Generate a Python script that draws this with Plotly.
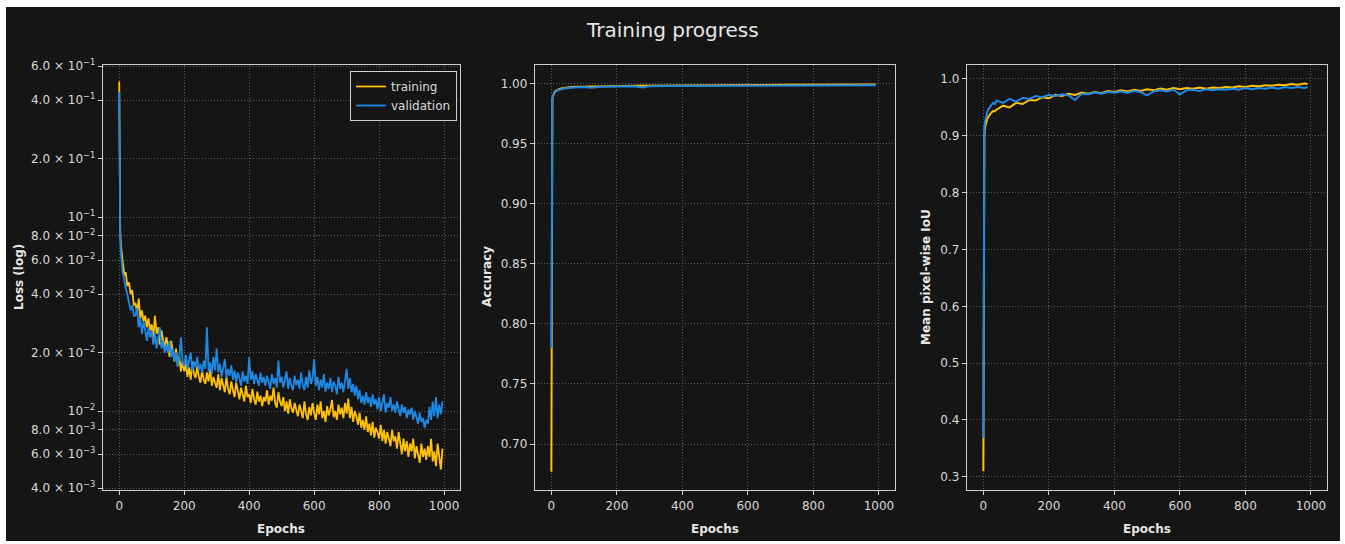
import plotly.graph_objects as go

# ---------------- data ----------------
loss_epochs = [0, 1, 2, 3, 5, 7, 10, 13, 16, 20, 25, 30, 35, 40, 45] + list(range(50, 1000, 5))
train_loss = [0.50, 0.21, 0.11, 0.085, 0.072, 0.064, 0.060, 0.055, 0.050, 0.052, 0.044, 0.046, 0.040, 0.042, 0.035,
              0.036, 0.032, 0.038, 0.030, 0.033, 0.029, 0.031, 0.027, 0.030, 0.026,
              0.028, 0.024, 0.031, 0.025, 0.027, 0.022, 0.026, 0.023, 0.021, 0.024,
              0.022, 0.019, 0.023, 0.020, 0.018, 0.021, 0.017, 0.019, 0.016, 0.018,
              0.0160, 0.0175, 0.0150, 0.0168, 0.0145, 0.0180, 0.0155, 0.0148, 0.0170, 0.0150,
              0.0140, 0.0162, 0.0145, 0.0138, 0.0158, 0.0142, 0.0165, 0.0135, 0.0150, 0.0140,
              0.0132, 0.0155, 0.0128, 0.0148, 0.0136, 0.0125, 0.0150, 0.0130, 0.0122, 0.0142,
              0.0128, 0.0118, 0.0140, 0.0125, 0.0115, 0.0132, 0.0120, 0.0112, 0.0135, 0.0118,
              0.0122, 0.0110, 0.0130, 0.0115, 0.0108, 0.0126, 0.0112, 0.0120, 0.0106, 0.0118,
              0.0112, 0.0128, 0.0108, 0.0120, 0.0113, 0.0132, 0.0110, 0.0104, 0.0125, 0.0112,
              0.0106, 0.0118, 0.0100, 0.0112, 0.0097, 0.0115, 0.0103, 0.0098, 0.0110, 0.0100,
              0.0094, 0.0108, 0.0100, 0.0092, 0.0112, 0.0097, 0.0090, 0.0105, 0.0095, 0.0110,
              0.0098, 0.0090, 0.0108, 0.0096, 0.0112, 0.0092, 0.0100, 0.0088, 0.0106, 0.0095,
              0.0102, 0.0114, 0.0093, 0.0100, 0.0090, 0.0108, 0.0096, 0.0104, 0.0092, 0.0110,
              0.0097, 0.0116, 0.0092, 0.0105, 0.0088, 0.0100, 0.0094, 0.0085, 0.0098, 0.0082,
              0.0090, 0.0080, 0.0094, 0.0078, 0.0086, 0.0075, 0.0088, 0.0073, 0.0082, 0.0078,
              0.0072, 0.0085, 0.0070, 0.0080, 0.0068, 0.0078, 0.0072, 0.0066, 0.0080, 0.0070,
              0.0074, 0.0064, 0.0078, 0.0066, 0.0060, 0.0072, 0.0062, 0.0070, 0.0058, 0.0068,
              0.0062, 0.0072, 0.0057, 0.0066, 0.0060, 0.0054, 0.0068, 0.0058, 0.0064, 0.0056,
              0.0066, 0.0058, 0.0072, 0.0055, 0.0062, 0.0052, 0.0068, 0.0056, 0.0050, 0.0064]
val_loss = [0.44, 0.19, 0.10, 0.080, 0.066, 0.058, 0.052, 0.050, 0.046, 0.043, 0.040, 0.036, 0.033, 0.035, 0.031,
            0.031, 0.034, 0.027, 0.030, 0.025, 0.029, 0.026, 0.023, 0.027, 0.024,
            0.026, 0.022, 0.025, 0.021, 0.024, 0.027, 0.021, 0.023, 0.020, 0.022,
            0.020, 0.023, 0.019, 0.021, 0.018, 0.020, 0.017, 0.019, 0.024, 0.018,
            0.0170, 0.0195, 0.0165, 0.0185, 0.0200, 0.0160, 0.0180, 0.0168, 0.0190, 0.0162,
            0.0175, 0.0158, 0.0182, 0.0165, 0.0270, 0.0160, 0.0178, 0.0155, 0.0190, 0.0162,
            0.0210, 0.0158, 0.0175, 0.0150, 0.0168, 0.0185, 0.0148, 0.0165, 0.0152, 0.0172,
            0.0145, 0.0162, 0.0140, 0.0158, 0.0148, 0.0135, 0.0160, 0.0142, 0.0152, 0.0138,
            0.0190, 0.0145, 0.0160, 0.0138, 0.0155, 0.0142, 0.0135, 0.0158, 0.0140, 0.0150,
            0.0135, 0.0152, 0.0140, 0.0130, 0.0155, 0.0138, 0.0148, 0.0132, 0.0182, 0.0140,
            0.0150, 0.0132, 0.0145, 0.0160, 0.0130, 0.0148, 0.0135, 0.0128, 0.0152, 0.0136,
            0.0145, 0.0130, 0.0158, 0.0135, 0.0128, 0.0150, 0.0132, 0.0162, 0.0138, 0.0148,
            0.0185, 0.0135, 0.0150, 0.0128, 0.0145, 0.0132, 0.0155, 0.0126, 0.0140, 0.0130,
            0.0148, 0.0125, 0.0142, 0.0135, 0.0122, 0.0150, 0.0130, 0.0140, 0.0125, 0.0145,
            0.0165, 0.0130, 0.0148, 0.0125, 0.0138, 0.0120, 0.0135, 0.0115, 0.0128, 0.0110,
            0.0120, 0.0108, 0.0125, 0.0110, 0.0118, 0.0105, 0.0122, 0.0108, 0.0115, 0.0102,
            0.0118, 0.0100, 0.0112, 0.0122, 0.0098, 0.0110, 0.0104, 0.0118, 0.0100, 0.0108,
            0.0098, 0.0112, 0.0102, 0.0094, 0.0108, 0.0098, 0.0105, 0.0092, 0.0102, 0.0096,
            0.0104, 0.0090, 0.0100, 0.0094, 0.0086, 0.0098, 0.0088, 0.0092, 0.0082, 0.0090,
            0.0086, 0.0105, 0.0090, 0.0112, 0.0094, 0.0118, 0.0092, 0.0108, 0.0096, 0.0112]

acc_epochs = [0, 1, 2, 3, 4, 6, 8, 10, 13, 16, 20, 25, 30, 40, 50, 60, 80, 100, 120, 150, 180, 210,
              250, 280, 300, 350, 400, 450, 500, 550, 600, 650, 700, 750, 800, 850, 900, 950, 990]
train_acc = [0.677, 0.955, 0.980, 0.986, 0.989, 0.991, 0.9925, 0.9932, 0.9940, 0.9946, 0.9952, 0.9957,
             0.9961, 0.9966, 0.9970, 0.9972, 0.9975, 0.9977, 0.9978, 0.9980, 0.9981, 0.9982, 0.9984,
             0.9984, 0.9985, 0.9986, 0.9987, 0.9988, 0.9988, 0.9989, 0.9990, 0.9990, 0.9991, 0.9991,
             0.9992, 0.9992, 0.9993, 0.9993, 0.9994]
val_acc = [0.780, 0.962, 0.982, 0.987, 0.989, 0.9905, 0.9918, 0.9926, 0.9934, 0.9940, 0.9946, 0.9950,
           0.9955, 0.9960, 0.9964, 0.9967, 0.9970, 0.9972, 0.9966, 0.9974, 0.9976, 0.9977, 0.9979,
           0.9968, 0.9980, 0.9981, 0.9982, 0.9983, 0.9983, 0.9984, 0.9985, 0.9985, 0.9986, 0.9986,
           0.9987, 0.9987, 0.9988, 0.9988, 0.9988]

iou_epochs = [0, 1, 2, 3, 5, 8, 12, 16, 20, 25, 30, 35] + list(range(40, 1000, 20)) + [990]
train_iou = [0.310, 0.80, 0.875, 0.900, 0.915, 0.924, 0.930, 0.934, 0.938, 0.941, 0.944, 0.943,
             0.946, 0.953, 0.950, 0.958, 0.956, 0.963, 0.962, 0.968, 0.966, 0.972, 0.970, 0.974,
             0.972, 0.976, 0.974, 0.977, 0.975, 0.979, 0.977, 0.980, 0.978, 0.981, 0.979, 0.982,
             0.980, 0.983, 0.981, 0.984, 0.982, 0.984, 0.983, 0.985, 0.983, 0.985, 0.984, 0.986,
             0.985, 0.987, 0.986, 0.988, 0.987, 0.989, 0.988, 0.990, 0.989, 0.991, 0.990, 0.992,
             0.991]
val_iou = [0.368, 0.845, 0.900, 0.915, 0.925, 0.935, 0.942, 0.947, 0.951, 0.955, 0.958, 0.956,
           0.962, 0.958, 0.965, 0.960, 0.967, 0.965, 0.970, 0.968, 0.972, 0.970, 0.973, 0.971,
           0.963, 0.974, 0.973, 0.976, 0.974, 0.977, 0.976, 0.978, 0.976, 0.979, 0.977, 0.971,
           0.978, 0.980, 0.978, 0.981, 0.973, 0.980, 0.981, 0.979, 0.982, 0.980, 0.982, 0.981,
           0.983, 0.981, 0.984, 0.982, 0.984, 0.983, 0.985, 0.983, 0.986, 0.984, 0.986, 0.984,
           0.986]

loss_tickvals = [0.6, 0.4, 0.2, 0.1, 0.08, 0.06, 0.04, 0.02, 0.01, 0.008, 0.006, 0.004]
loss_ticktext = ["6.0 × 10<sup>−1</sup>", "4.0 × 10<sup>−1</sup>", "2.0 × 10<sup>−1</sup>", "10<sup>−1</sup>",
                 "8.0 × 10<sup>−2</sup>", "6.0 × 10<sup>−2</sup>", "4.0 × 10<sup>−2</sup>", "2.0 × 10<sup>−2</sup>",
                 "10<sup>−2</sup>", "8.0 × 10<sup>−3</sup>", "6.0 × 10<sup>−3</sup>", "4.0 × 10<sup>−3</sup>"]
x_ticks = [0, 200, 400, 600, 800, 1000]

# ---------------- styling ----------------
W, H = 1345, 544
BG = "#151515"
FG = "#d9d9d9"
YEL = "#FFC107"
BLU = "#1E88E5"
FONT = "DejaVu Sans"


def px_x(p):
    return p / W


def px_y(p):
    return 1 - p / H


fig = go.Figure()

panels = [
    (loss_epochs, train_loss, val_loss, "", 1.8),
    (acc_epochs, train_acc, val_acc, "2", 2.0),
    (iou_epochs, train_iou, val_iou, "3", 2.0),
]
for i, (ep, tr, va, sfx, lw) in enumerate(panels):
    fig.add_trace(go.Scatter(x=ep, y=tr, mode="lines", name="training", line=dict(color=YEL, width=lw),
                             xaxis="x" + sfx, yaxis="y" + sfx, showlegend=(i == 0)))
    fig.add_trace(go.Scatter(x=ep, y=va, mode="lines", name="validation", line=dict(color=BLU, width=lw),
                             xaxis="x" + sfx, yaxis="y" + sfx, showlegend=(i == 0)))

common = dict(showline=True, mirror=True, linecolor="#cfcfcf", linewidth=1.2,
              ticks="outside", ticklen=4, tickcolor="#cfcfcf", tickwidth=1,
              showgrid=True, gridcolor="#5a5a5a", griddash="1px,2px", gridwidth=1,
              zeroline=False, automargin=False, tickfont=dict(family=FONT, size=12, color=FG))

ydom = [px_y(490), px_y(65)]
xdoms = [[px_x(103), px_x(460)], [px_x(535), px_x(895)], [px_x(967), px_x(1327)]]

layout = dict(
    width=W, height=H, autosize=False,
    margin=dict(l=0, r=0, t=0, b=0, pad=0, autoexpand=False),
    paper_bgcolor="white", plot_bgcolor=BG,
    showlegend=True,
    legend=dict(x=px_x(457), y=px_y(71), xanchor="right", yanchor="top",
                bgcolor=BG, bordercolor="#cfcfcf", borderwidth=1,
                font=dict(family=FONT, size=12, color=FG)),
)
for i, sfx in enumerate(["", "2", "3"]):
    xa = dict(common, domain=xdoms[i], range=[-49.95, 1048.95], tickvals=x_ticks,
              anchor="y" + sfx)
    layout["xaxis" + sfx] = xa
layout["yaxis"] = dict(common, domain=ydom, type="log", range=[-2.407, -0.2165],
                       tickvals=loss_tickvals, ticktext=loss_ticktext, anchor="x")
layout["yaxis2"] = dict(common, domain=ydom, range=[0.6617, 1.0156],
                        tickvals=[0.70, 0.75, 0.80, 0.85, 0.90, 0.95, 1.00], tickformat=".2f", anchor="x2")
layout["yaxis3"] = dict(common, domain=ydom, range=[0.2768, 1.0246],
                        tickvals=[0.3, 0.4, 0.5, 0.6, 0.7, 0.8, 0.9, 1.0], tickformat=".1f", anchor="x3")

fig.update_layout(**layout)

# dark figure panel with thin white margin (like the screenshot)
fig.add_shape(type="rect", xref="paper", yref="paper", x0=px_x(6), x1=px_x(1340), y0=px_y(541), y1=px_y(7),
              fillcolor=BG, line=dict(width=0), layer="below")

ann = []
ann.append(dict(text="Training progress", x=px_x(672), y=px_y(30), xref="paper", yref="paper",
                showarrow=False, font=dict(family=FONT, size=20, color="#e6e6e6"), xanchor="center", yanchor="middle"))
for cx in [281, 715, 1147]:
    ann.append(dict(text="<b>Epochs</b>", x=px_x(cx), y=px_y(529), xref="paper", yref="paper",
                    showarrow=False, font=dict(family=FONT, size=12, color="#e6e6e6"),
                    xanchor="center", yanchor="middle"))
for cx, txt in [(19, "Loss (log)"), (487, "Accuracy"), (926, "Mean pixel-wise IoU")]:
    ann.append(dict(text="<b>" + txt + "</b>", x=px_x(cx), y=px_y(277), xref="paper", yref="paper",
                    showarrow=False, textangle=-90, font=dict(family=FONT, size=12, color="#e6e6e6"),
                    xanchor="center", yanchor="middle"))
fig.update_layout(annotations=ann)

fig.write_html("out.html",
               config={"displayModeBar": False, "staticPlot": True},
               post_script=("document.documentElement.style.margin='0px';"
                            "document.body.style.margin='0px';document.body.style.padding='0px';"
                            "document.documentElement.style.overflow='hidden';document.body.style.overflow='hidden';"
                            "var gd=document.getElementsByClassName('plotly-graph-div')[0];"
                            "gd.style.position='fixed';gd.style.left='0px';gd.style.top='0px';"))
